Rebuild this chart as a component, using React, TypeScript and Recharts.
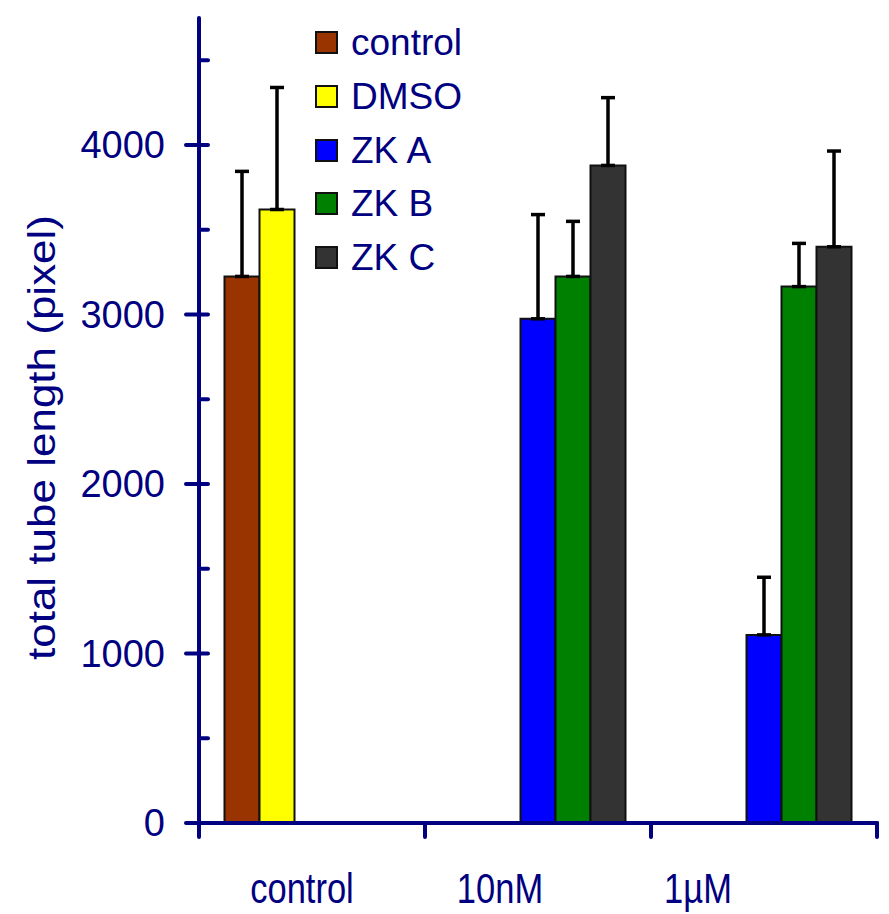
import { BarChart, Bar, XAxis, YAxis, ErrorBar, Legend, Label } from "recharts";

const categories = ["control", "10nM", "1µM"];
const seriesNames = ["control", "DMSO", "ZK A", "ZK B", "ZK C"];

const controlValues = [3225, null, null];
const dmsoValues = [3620, null, null];
const zkAValues = [null, 2975, 1110];
const zkBValues = [null, 3225, 3165];
const zkCValues = [null, 3880, 3400];

// upper error only (SD drawn above the bar)
const controlErrors = [620, null, null];
const dmsoErrors = [720, null, null];
const zkAErrors = [null, 615, 340];
const zkBErrors = [null, 325, 255];
const zkCErrors = [null, 400, 565];

const yTicks = [0, 500, 1000, 1500, 2000, 2500, 3000, 3500, 4000, 4500];

const COLORS = ["#993300", "#FFFF00", "#0000FF", "#008000", "#333333"];
const NAVY = "#000080";
const FONT = "'Liberation Sans', Arial, sans-serif";

const values = [controlValues, dmsoValues, zkAValues, zkBValues, zkCValues];
const errors = [controlErrors, dmsoErrors, zkAErrors, zkBErrors, zkCErrors];

const data = categories.map((name, i) => {
  const row: any = { name };
  values.forEach((v, k) => {
    row["s" + k] = v[i];
    const e = errors[k][i];
    row["e" + k] = e == null ? null : [0, e];
  });
  return row;
});

// x labels in the original sit left of the group centres
const X_LABEL_SHIFT = [-10, -38, -66];

function YTick(props: any) {
  const { x, y, payload } = props;
  const major = payload.value % 1000 === 0;
  return (
    <g>
      <line
        x1={major ? x - 13 : x}
        x2={x + 9}
        y1={y}
        y2={y}
        stroke={NAVY}
        strokeWidth={4}
        strokeLinecap="round"
      />
      {major && (
        <text
          x={x - 34}
          y={y}
          dy={13}
          textAnchor="end"
          fontSize={38}
          fontFamily={FONT}
          fill={NAVY}
        >
          {payload.value}
        </text>
      )}
    </g>
  );
}

function XTick(props: any) {
  const { x, y, payload, index } = props;
  const half = payload.offset ?? 0;
  return (
    <g>
      <line x1={x - half} x2={x - half} y1={y} y2={y + 14} stroke={NAVY} strokeWidth={4} strokeLinecap="round" />
      {index === categories.length - 1 && (
        <line x1={x + half} x2={x + half} y1={y} y2={y + 14} stroke={NAVY} strokeWidth={4} strokeLinecap="round" />
      )}
      <text
        transform={`translate(${x + X_LABEL_SHIFT[index]},${y + 80}) scale(1,1.24)`}
        textAnchor="middle"
        fontSize={34.5}
        fontFamily={FONT}
        fill={NAVY}
      >
        {payload.value}
      </text>
    </g>
  );
}

function YLabel(props: any) {
  const vb = props.viewBox;
  const cx = vb.x + 55;
  const cy = vb.y + vb.height / 2 + 17;
  return (
    <text
      transform={`translate(${cx},${cy}) rotate(-90)`}
      textAnchor="middle"
      fontSize={38}
      fontFamily={FONT}
      fill={NAVY}
      textLength={445}
      lengthAdjust="spacingAndGlyphs"
    >
      total tube length (pixel)
    </text>
  );
}

const renderLegend = (props: any) => {
  const items = [...props.payload].sort(
    (a: any, b: any) => seriesNames.indexOf(a.value) - seriesNames.indexOf(b.value)
  );
  return (
    <div style={{ fontFamily: FONT }}>
      {items.map((p: any) => (
        <div key={p.value} style={{ display: "flex", alignItems: "center", height: 53.7 }}>
          <span
            style={{
              display: "inline-block",
              width: 23,
              height: 23,
              boxSizing: "border-box",
              background: p.color,
              border: "2px solid #111",
            }}
          />
          <span style={{ marginLeft: 13, fontSize: 37, lineHeight: "37px", color: NAVY }}>{p.value}</span>
        </div>
      ))}
    </div>
  );
};

export default function App() {
  return (
    <div style={{ position: "absolute", left: 0, top: 0, background: "#fff" }}>
      <BarChart
        width={889}
        height={914}
        data={data}
        margin={{ top: 18, right: 12, left: 0, bottom: 0 }}
        barGap={0}
        barCategoryGap={25.5}
      >
        <XAxis
          dataKey="name"
          height={91}
          tickSize={0}
          tickMargin={0}
          tickLine={false}
          axisLine={{ stroke: NAVY, strokeWidth: 4, strokeLinecap: "round" }}
          tick={<XTick />}
          interval={0}
        />
        <YAxis
          width={199}
          domain={[0, 4750]}
          ticks={yTicks}
          interval={0}
          tickSize={0}
          tickMargin={0}
          tickLine={false}
          axisLine={{ stroke: NAVY, strokeWidth: 4, strokeLinecap: "round" }}
          tick={<YTick />}
        >
          <Label content={<YLabel />} />
        </YAxis>
        <Legend
          layout="vertical"
          align="center"
          verticalAlign="middle"
          wrapperStyle={{ left: 315, top: 16, width: 220 }}
          content={renderLegend}
        />
        {seriesNames.map((n, k) => (
          <Bar
            key={n}
            dataKey={"s" + k}
            name={n}
            fill={COLORS[k]}
            stroke="#111"
            strokeWidth={2}
            isAnimationActive={false}
          >
            <ErrorBar dataKey={"e" + k} width={7} stroke="#000" strokeWidth={3.5} direction="y" />
          </Bar>
        ))}
      </BarChart>
    </div>
  );
}
